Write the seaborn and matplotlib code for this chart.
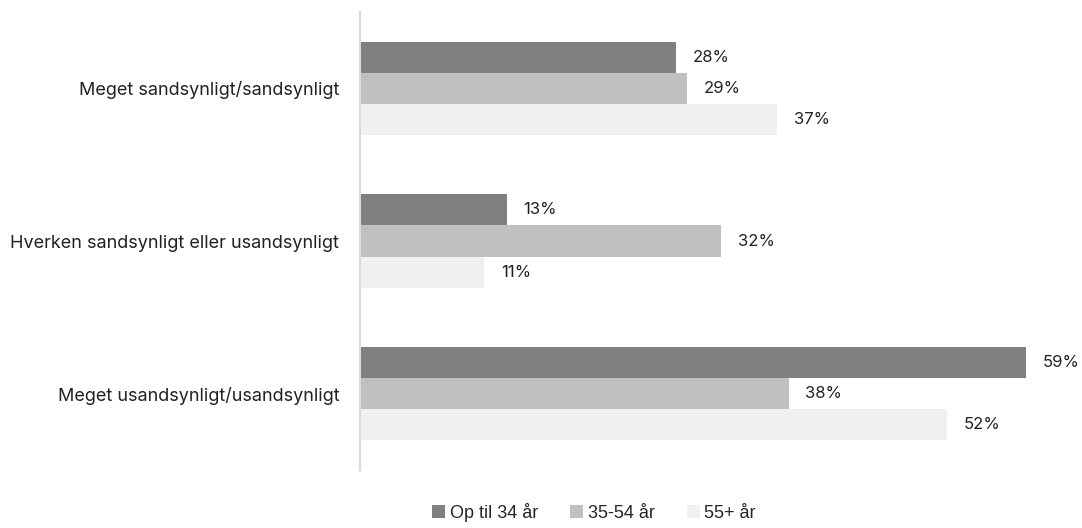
import matplotlib
matplotlib.use("Agg")
import matplotlib.pyplot as plt
import seaborn as sns
import pandas as pd

categories = ["Meget sandsynligt/sandsynligt",
              "Hverken sandsynligt eller usandsynligt",
              "Meget usandsynligt/usandsynligt"]
groups = ["Op til 34 år", "35-54 år", "55+ år"]
values_young = [28, 13, 59]
values_mid = [29, 32, 38]
values_old = [37, 11, 52]
colors = ["#808080", "#c0c0c0", "#f0f0f0"]

rows = []
for g, vals in zip(groups, [values_young, values_mid, values_old]):
    for c, v in zip(categories, vals):
        rows.append({"cat": c, "group": g, "value": v})
df = pd.DataFrame(rows)

sns.set_theme(style="white")
plt.rcParams["font.family"] = ["Inter", "DejaVu Sans"]

fig = plt.figure(figsize=(10.82, 5.28), dpi=100)
ax = fig.add_axes([360/1082, 58/528, 1 - 360/1082, (470-12)/528])

sns.barplot(data=df, y="cat", x="value", hue="group", order=categories,
            hue_order=groups, palette=colors, orient="h", width=0.61,
            saturation=1, ax=ax, legend=True, linewidth=0)

for cont in ax.containers:
    ax.bar_label(cont, labels=[f"{int(v)}%" for v in cont.datavalues],
                 padding=12, fontsize=12, color="#222222")

ax.set_xlim(0, 64)
ax.set_ylim(2.5, -0.5)
ax.set_xlabel("")
ax.set_ylabel("")
ax.set_xticks([])
ax.tick_params(axis="y", length=0, pad=15, labelsize=13, labelcolor="#222222")
for s in ["top", "right", "bottom"]:
    ax.spines[s].set_visible(False)
ax.spines["left"].set_color("#d9d9d9")
ax.spines["left"].set_linewidth(1.5)

ax.legend(handles=ax.get_legend_handles_labels()[0], labels=groups,
          loc="lower center", bbox_to_anchor=(594/1082, -0.005), bbox_transform=fig.transFigure,
          ncol=3, frameon=False, prop={"family": ["Liberation Sans", "DejaVu Sans"], "size": 13},
          handlelength=0.7, handleheight=0.7,
          handletextpad=0.25, columnspacing=1.8, borderaxespad=0.1)

fig.savefig("out.png", dpi=100)
